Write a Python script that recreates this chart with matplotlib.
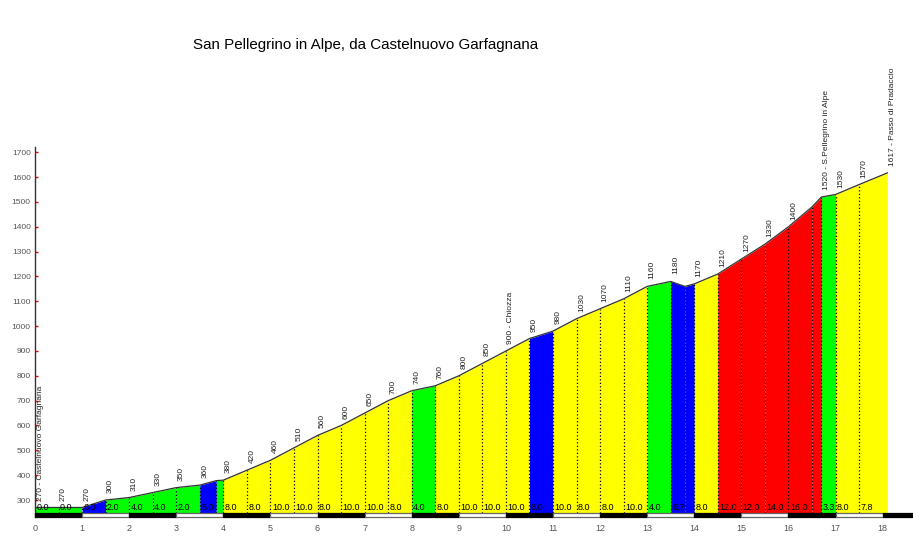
import matplotlib
matplotlib.use("Agg")
import matplotlib.pyplot as plt
from matplotlib.patches import Rectangle

plt.rcParams['font.family'] = ['Liberation Sans', 'DejaVu Sans']

title = "San Pellegrino in Alpe, da Castelnuovo Garfagnana"

km = [0, 0.5, 1, 1.5, 2, 2.5, 3, 3.5, 3.85, 4, 4.5, 5, 5.5, 6, 6.5, 7, 7.5, 8, 8.5, 9,
      9.5, 10, 10.5, 11, 11.5, 12, 12.5, 13, 13.5, 13.8, 14, 14.5, 15, 15.5, 16, 16.5,
      16.7, 17, 17.5, 18.1]
elev = [270, 270, 270, 300, 310, 330, 350, 360, 378, 380, 420, 460, 510, 560, 600, 650,
        700, 740, 760, 800, 850, 900, 950, 980, 1030, 1070, 1110, 1160, 1180, 1160, 1170,
        1210, 1270, 1330, 1400, 1480, 1520, 1530, 1570, 1617]
point_labels = ["270 - Castelnuovo Garfagnana", "270", "270", "300", "310", "330", "350",
                "360", "", "380", "420", "460", "510", "560", "600", "650", "700", "740",
                "760", "800", "850", "900 - Chiozza", "950", "980", "1030", "1070", "1110",
                "1160", "1180", "", "1170", "1210", "1270", "1330", "1400", "",
                "1520 - S.Pellegrino in Alpe", "1530", "1570", "1617 - Passo di Pradaccio"]
grade_labels = ["0.0", "0.0", "6.0", "2.0", "4.0", "4.0", "2.0", "5.0", "", "8.0", "8.0",
                "10.0", "10.0", "8.0", "10.0", "10.0", "8.0", "4.0", "8.0", "10.0", "10.0",
                "10.0", "6.0", "10.0", "8.0", "8.0", "10.0", "4.0", "6.7", "", "8.0",
                "12.0", "12.0", "14.0", "16.0", "", "3.3", "8.0", "7.8"]
x_ticks = list(range(0, 19))
y_ticks = list(range(300, 1800, 100))

BASE = 249
STRIP_LO, STRIP_HI = 232, 248


def grade_color(g):
    g = abs(g)
    if g <= 4.05:
        return "#00ff00"
    if g < 7.0:
        return "#0000ff"
    if g <= 10.05:
        return "#ffff00"
    return "#ff0000"


fig = plt.figure(figsize=(9.13, 5.44), dpi=100)
left = 35 / 913
ax = fig.add_axes([left, 0.0489, 1 - left, 0.6803])
ax.set_xlim(0, 878 / 47.09)
ax.set_ylim(230, 1720)

for i in range(len(km) - 1):
    x0, x1 = km[i], km[i + 1]
    e0, e1 = elev[i], elev[i + 1]
    g = (e1 - e0) / ((x1 - x0) * 1000) * 100
    ax.fill_between([x0, x1], [e0, e1], BASE, color=grade_color(g), lw=0, zorder=1)
    if grade_labels[i]:
        ax.text(x0 + 0.03, BASE + 3, grade_labels[i], fontsize=6.5, color="black",
                ha="left", va="bottom", zorder=4)

# dotted separators
for i in range(1, len(km) - 1):
    ax.plot([km[i], km[i]], [BASE, elev[i]], color="black", lw=0.9,
            linestyle=(0, (1, 1.8)), zorder=2)

# profile line
ax.plot(km, elev, color="#333333", lw=0.9, zorder=3)

# elevation labels
for x, e, lab in zip(km, elev, point_labels):
    if lab:
        ax.annotate(lab, (x, e), xytext=(3.6, 5), textcoords="offset points",
                    rotation=90, ha="center", va="bottom", fontsize=6,
                    color="#222222", zorder=5)

# km strip
for k in range(0, 19):
    black = (k % 2 == 0)
    ax.add_patch(Rectangle((k, STRIP_LO), 1, STRIP_HI - STRIP_LO,
                           facecolor="black" if black else "white",
                           edgecolor="black" if black else "#666666",
                           lw=0.9, zorder=3, clip_on=False))

for s in ["top", "right", "bottom"]:
    ax.spines[s].set_visible(False)
ax.spines["left"].set_color("#333333")
ax.spines["left"].set_linewidth(1.0)

ax.set_xticks(x_ticks)
ax.set_xticklabels([str(t) for t in x_ticks])
ax.set_yticks(y_ticks)
ax.set_yticklabels([str(t) for t in y_ticks])
ax.tick_params(axis="x", length=0, pad=5, labelsize=6.5, labelcolor="#555555")
ax.tick_params(axis="y", direction="in", length=2.5, width=1, color="red",
               pad=3, labelsize=6, labelcolor="#555555")

fig.text(192.7 / 913, 1 - 45 / 544, title, fontsize=10.9, ha="left", va="center",
         color="black")

fig.savefig("out.png", dpi=100)
